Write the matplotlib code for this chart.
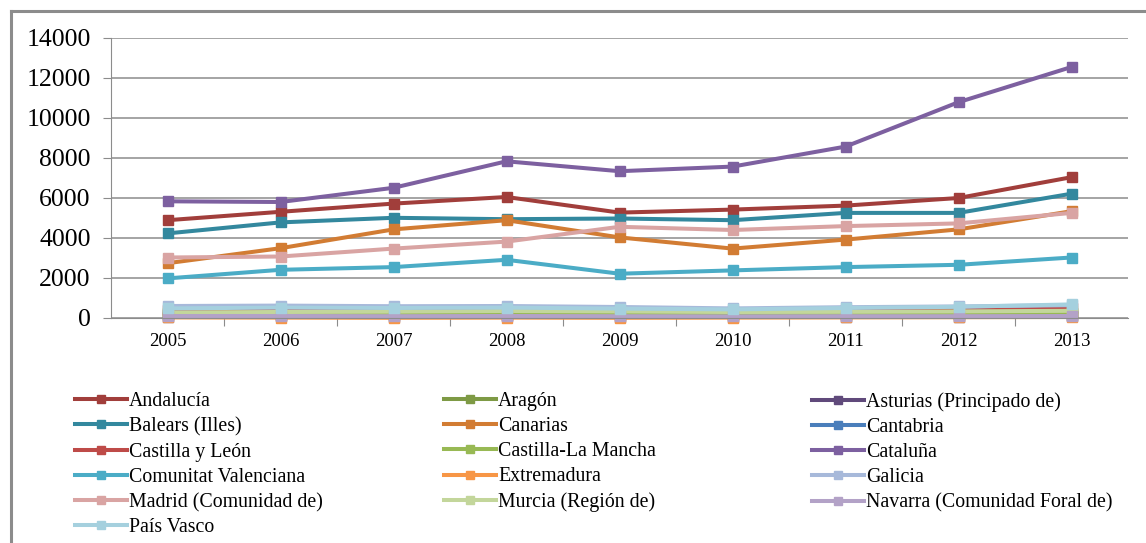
import numpy as np
import matplotlib.pyplot as plt
from matplotlib.lines import Line2D

years = ['2005', '2006', '2007', '2008', '2009', '2010', '2011', '2012', '2013']

regions = ['Andalucía', 'Aragón', 'Asturias (Principado de)', 'Balears (Illes)',
           'Canarias', 'Cantabria', 'Castilla y León', 'Castilla-La Mancha',
           'Cataluña', 'Comunitat Valenciana', 'Extremadura', 'Galicia',
           'Madrid (Comunidad de)', 'Murcia (Región de)',
           'Navarra (Comunidad Foral de)', 'País Vasco']

andalucia = [4890, 5310, 5720, 6050, 5270, 5420, 5620, 6000, 7040]
aragon = [190, 200, 210, 220, 200, 180, 190, 200, 230]
asturias = [70, 80, 70, 80, 70, 60, 70, 70, 80]
balears = [4230, 4780, 5010, 4940, 4975, 4890, 5255, 5255, 6215]
canarias = [2740, 3490, 4430, 4890, 4030, 3470, 3920, 4430, 5340]
cantabria = [150, 160, 150, 160, 140, 130, 140, 150, 170]
castilla_leon = [420, 460, 440, 430, 390, 350, 380, 400, 500]
castilla_mancha = [230, 240, 250, 260, 240, 220, 230, 240, 260]
cataluna = [5835, 5800, 6510, 7835, 7340, 7570, 8570, 10790, 12550]
valenciana = [1980, 2410, 2545, 2910, 2215, 2380, 2545, 2660, 3025]
extremadura = [30, 20, 10, 20, 10, 20, 30, 40, 50]
galicia = [600, 620, 590, 600, 550, 480, 540, 580, 640]
madrid = [3025, 3075, 3470, 3820, 4560, 4400, 4595, 4730, 5255]
murcia = [280, 300, 320, 350, 330, 300, 310, 330, 360]
navarra = [100, 100, 90, 100, 90, 80, 90, 90, 100]
pais_vasco = [480, 520, 500, 520, 470, 430, 500, 560, 680]

series = [andalucia, aragon, asturias, balears, canarias, cantabria,
          castilla_leon, castilla_mancha, cataluna, valenciana, extremadura,
          galicia, madrid, murcia, navarra, pais_vasco]

colors = ['#A13E3B', '#7E9A45', '#604A7B', '#33889E', '#D27C33', '#4A7EBB',
          '#BE4B48', '#98B954', '#7D60A0', '#4BACC6', '#F79646', '#A7B9DA',
          '#D9A4A3', '#C3D69B', '#B3A2C7', '#A5D0DE']

W, H = 1146, 543
fig = plt.figure(figsize=(W / 100, H / 100), dpi=100)
ax = fig.add_axes([111 / W, 1 - 318 / H, (1128 - 111) / W, (318 - 38) / H])

x = np.arange(len(years))
handles = []
for vals, name, c in zip(series, regions, colors):
    h, = ax.plot(x, vals, color=c, lw=2.9, marker='s', ms=6.5,
                 solid_joinstyle='round', label=name, clip_on=False)
    handles.append(h)

ax.set_xlim(-0.5, len(years) - 0.5)
ax.set_ylim(0, 14000)
ax.set_yticks(np.arange(0, 14001, 2000))
ax.yaxis.grid(True, color='#8C8C8C', lw=1.1)
ax.set_axisbelow(True)

ax.set_xticks(np.arange(0.5, len(years) - 0.5, 1))
ax.set_xticklabels([])
ax.set_xticks(x, minor=True)
ax.set_xticklabels(years, minor=True, family='Liberation Serif', fontsize=13.5)
ax.tick_params(axis='x', which='major', length=5.5, color='#8C8C8C', direction='out')
ax.tick_params(axis='x', which='minor', length=0, pad=11)
ax.tick_params(axis='y', length=5.5, color='#8C8C8C', pad=9, labelsize=18.5)
for lab in ax.get_yticklabels():
    lab.set_family('Liberation Serif')

for s in ['top', 'right']:
    ax.spines[s].set_visible(False)
ax.spines['left'].set_color('#8C8C8C')
ax.spines['bottom'].set_color('#8C8C8C')

# outer chart border (top and left edges visible)
fig.add_artist(Line2D([11 / W, 1], [1 - 11 / H, 1 - 11 / H], color='#8C8C8C', lw=2.2))
fig.add_artist(Line2D([11 / W, 11 / W], [0, 1 - 11 / H], color='#8C8C8C', lw=2.2))

# legend in three columns, filled row by row
col_x = [75, 444, 812]
for k in range(3):
    hs = handles[k::3]
    fig.legend(handles=hs, loc='upper left',
               bbox_to_anchor=(col_x[k] / W, 1 - 392 / H),
               frameon=False, ncol=1, borderpad=0, borderaxespad=0,
               handlelength=2.6, handletextpad=0.12, labelspacing=0.31,
               markerscale=0.85,
               prop={'family': 'Liberation Serif', 'size': 14.3})

fig.savefig('out.png', dpi=100)
